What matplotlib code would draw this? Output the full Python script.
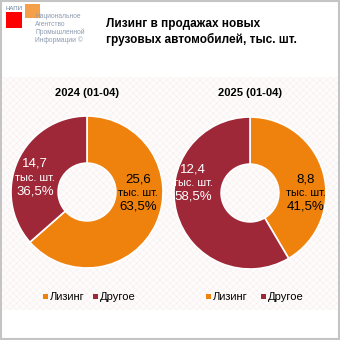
import matplotlib.pyplot as plt
import matplotlib.patches as mpatches
import matplotlib as mpl

mpl.rcParams['font.family'] = ['Liberation Sans', 'DejaVu Sans']
mpl.rcParams['hatch.linewidth'] = 0.3

# data
categories = ['Лизинг', 'Другое']
periods = ['2024 (01-04)', '2025 (01-04)']
volumes = [[25.6, 14.7], [8.8, 12.4]]
shares = [[63.5, 36.5], [41.5, 58.5]]
colors = ['#ef820d', '#9e2837']
label_colors = ['black', 'white']

title = 'Лизинг в продажах новых\nгрузовых автомобилей, тыс. шт.'

W = H = 340.0


def fx(x):
    return x / W


def fy(y):
    return 1 - y / H


fig = plt.figure(figsize=(3.4, 3.4), dpi=100)

# frame and hatched plot area
bg = fig.add_axes([0, 0, 1, 1])
bg.set_xlim(0, W)
bg.set_ylim(H, 0)
bg.axis('off')
bg.add_patch(mpatches.Rectangle((0.5, 0.5), W - 1.5, H - 1.5, facecolor='white',
                                edgecolor='#c4c4c4', lw=1.5))
area = mpatches.Rectangle((2, 77), W - 4, 233, facecolor='#fefbfb', hatch='xxxxx')
area.set_edgecolor('#f6eaec')
area.set_linewidth(0)
bg.add_patch(area)

# logo
bg.add_patch(mpatches.Rectangle((6, 12), 16, 16, facecolor='#ff0000', edgecolor='none'))
bg.add_patch(mpatches.Rectangle((25, 4), 15, 14, facecolor='#f4a04a', edgecolor='none'))
bg.text(6, 8, 'НАПИ', fontsize=4.3, color='#6a7f99', va='center', ha='left')
logo_lines = ['Национальное', 'Агентство', 'Промышленной', 'Информации ©']
for i, line in enumerate(logo_lines):
    bg.text(35, 16 + i * 8, line, fontsize=4.8, color='#8f9bb0', va='center', ha='left')

bg.text(106, 32, title, fontsize=8.5, fontweight='bold', color='black',
        va='center', ha='left', linespacing=1.2)

# donuts
centers = [(87, 192), (250, 193)]
radius = 76
label_pos = [[(138, 193), (35, 178)], [(306, 193), (193, 183)]]
legend_x = [45, 208]

for k in range(2):
    cx, cy = centers[k]
    ax = fig.add_axes([fx(cx - radius), fy(cy + radius), 2 * radius / W, 2 * radius / H])
    ax.pie(volumes[k], colors=colors, startangle=90, counterclock=False,
           radius=1, wedgeprops=dict(width=0.62, edgecolor='white', linewidth=1.2))
    ax.set_xlim(-1, 1)
    ax.set_ylim(-1, 1)
    ax.set_aspect('equal')
    ax.axis('off')

# text overlay on top of the donuts
top = fig.add_axes([0, 0, 1, 1])
top.set_xlim(0, W)
top.set_ylim(H, 0)
top.axis('off')

for k in range(2):
    cx, cy = centers[k]
    top.text(cx, 93, periods[k], fontsize=8, fontweight='bold', ha='center', va='center')

    for j in range(2):
        lx, ly = label_pos[k][j]
        c = label_colors[j]
        v = f'{volumes[k][j]:.1f}'.replace('.', ',')
        s = f'{shares[k][j]:.1f}%'.replace('.', ',')
        top.text(lx, ly - 14, v, fontsize=9.5, color=c, ha='center', va='center')
        top.text(lx, ly, 'тыс. шт.', fontsize=7.9, color=c, ha='center', va='center')
        top.text(lx, ly + 13.5, s, fontsize=9.5, color=c, ha='center', va='center')

    # legend
    x0 = legend_x[k]
    for j, name in enumerate(categories):
        mx = x0 + j * (50 if k == 0 else 55)
        top.add_patch(mpatches.Rectangle((mx - 2.5, 293.5), 5, 5, facecolor=colors[j],
                                         edgecolor='none'))
        top.text(mx + 5, 296.5, name, fontsize=8, ha='left', va='center')

fig.savefig('out.png', dpi=100)
